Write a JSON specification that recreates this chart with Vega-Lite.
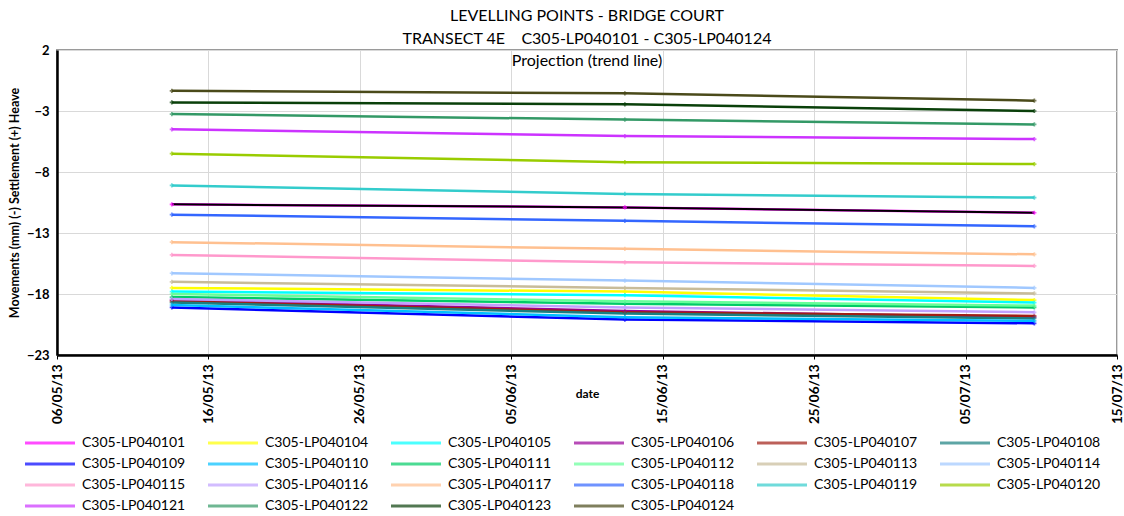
{
  "$schema": "https://vega.github.io/schema/vega-lite/v6.json",
  "width": 1060,
  "height": 305,
  "autosize": {"type": "none"},
  "padding": {"left": 57, "top": 50, "right": 7, "bottom": 161},
  "background": "white",
  "config": {
    "font": "Lato",
    "view": {"stroke": "#9a9a9a", "strokeWidth": 2},
    "axis": {"gridColor": "#d9d9d9", "gridWidth": 1, "labelFont": "Lato", "titleFont": "Lato"}
  },
  "title": {
    "text": ["LEVELLING POINTS - BRIDGE COURT", "TRANSECT 4E\u00a0\u00a0\u00a0\u00a0C305-LP040101 - C305-LP040124", "Projection (trend line)"],
    "anchor": "middle",
    "fontSize": 16,
    "fontWeight": "normal",
    "font": "Lato",
    "color": "#000000",
    "lineHeight": 22.5,
    "offset": -25
  },
  "data": {
    "values": [
      {"series": "C305-LP040101", "date": "2013-05-13T14:00", "value": -10.65},
      {"series": "C305-LP040101", "date": "2013-06-12T12:00", "value": -10.9},
      {"series": "C305-LP040101", "date": "2013-07-09T13:00", "value": -11.34},
      {"series": "C305-LP040104", "date": "2013-05-13T14:00", "value": -17.5},
      {"series": "C305-LP040104", "date": "2013-06-12T12:00", "value": -17.8},
      {"series": "C305-LP040104", "date": "2013-07-09T13:00", "value": -18.5},
      {"series": "C305-LP040105", "date": "2013-05-13T14:00", "value": -17.8},
      {"series": "C305-LP040105", "date": "2013-06-12T12:00", "value": -18.1},
      {"series": "C305-LP040105", "date": "2013-07-09T13:00", "value": -18.7},
      {"series": "C305-LP040106", "date": "2013-05-13T14:00", "value": -18.5},
      {"series": "C305-LP040106", "date": "2013-06-12T12:00", "value": -19.4},
      {"series": "C305-LP040106", "date": "2013-07-09T13:00", "value": -19.9},
      {"series": "C305-LP040107", "date": "2013-05-13T14:00", "value": -18.6},
      {"series": "C305-LP040107", "date": "2013-06-12T12:00", "value": -19.5},
      {"series": "C305-LP040107", "date": "2013-07-09T13:00", "value": -19.8},
      {"series": "C305-LP040108", "date": "2013-05-13T14:00", "value": -18.7},
      {"series": "C305-LP040108", "date": "2013-06-12T12:00", "value": -19.6},
      {"series": "C305-LP040108", "date": "2013-07-09T13:00", "value": -20.0},
      {"series": "C305-LP040109", "date": "2013-05-13T14:00", "value": -19.1},
      {"series": "C305-LP040109", "date": "2013-06-12T12:00", "value": -20.1},
      {"series": "C305-LP040109", "date": "2013-07-09T13:00", "value": -20.4},
      {"series": "C305-LP040110", "date": "2013-05-13T14:00", "value": -18.9},
      {"series": "C305-LP040110", "date": "2013-06-12T12:00", "value": -19.9},
      {"series": "C305-LP040110", "date": "2013-07-09T13:00", "value": -20.2},
      {"series": "C305-LP040111", "date": "2013-05-13T14:00", "value": -18.25},
      {"series": "C305-LP040111", "date": "2013-06-12T12:00", "value": -18.8},
      {"series": "C305-LP040111", "date": "2013-07-09T13:00", "value": -19.1},
      {"series": "C305-LP040112", "date": "2013-05-13T14:00", "value": -18.0},
      {"series": "C305-LP040112", "date": "2013-06-12T12:00", "value": -18.6},
      {"series": "C305-LP040112", "date": "2013-07-09T13:00", "value": -18.95},
      {"series": "C305-LP040113", "date": "2013-05-13T14:00", "value": -17.0},
      {"series": "C305-LP040113", "date": "2013-06-12T12:00", "value": -17.5},
      {"series": "C305-LP040113", "date": "2013-07-09T13:00", "value": -17.95},
      {"series": "C305-LP040114", "date": "2013-05-13T14:00", "value": -16.3},
      {"series": "C305-LP040114", "date": "2013-06-12T12:00", "value": -16.9},
      {"series": "C305-LP040114", "date": "2013-07-09T13:00", "value": -17.5},
      {"series": "C305-LP040115", "date": "2013-05-13T14:00", "value": -14.8},
      {"series": "C305-LP040115", "date": "2013-06-12T12:00", "value": -15.4},
      {"series": "C305-LP040115", "date": "2013-07-09T13:00", "value": -15.7},
      {"series": "C305-LP040116", "date": "2013-05-13T14:00", "value": -18.4},
      {"series": "C305-LP040116", "date": "2013-06-12T12:00", "value": -19.1},
      {"series": "C305-LP040116", "date": "2013-07-09T13:00", "value": -19.5},
      {"series": "C305-LP040117", "date": "2013-05-13T14:00", "value": -13.75},
      {"series": "C305-LP040117", "date": "2013-06-12T12:00", "value": -14.3},
      {"series": "C305-LP040117", "date": "2013-07-09T13:00", "value": -14.75},
      {"series": "C305-LP040118", "date": "2013-05-13T14:00", "value": -11.5},
      {"series": "C305-LP040118", "date": "2013-06-12T12:00", "value": -12.0},
      {"series": "C305-LP040118", "date": "2013-07-09T13:00", "value": -12.45},
      {"series": "C305-LP040119", "date": "2013-05-13T14:00", "value": -9.1},
      {"series": "C305-LP040119", "date": "2013-06-12T12:00", "value": -9.8},
      {"series": "C305-LP040119", "date": "2013-07-09T13:00", "value": -10.1},
      {"series": "C305-LP040120", "date": "2013-05-13T14:00", "value": -6.5},
      {"series": "C305-LP040120", "date": "2013-06-12T12:00", "value": -7.2},
      {"series": "C305-LP040120", "date": "2013-07-09T13:00", "value": -7.35},
      {"series": "C305-LP040121", "date": "2013-05-13T14:00", "value": -4.5},
      {"series": "C305-LP040121", "date": "2013-06-12T12:00", "value": -5.05},
      {"series": "C305-LP040121", "date": "2013-07-09T13:00", "value": -5.3},
      {"series": "C305-LP040122", "date": "2013-05-13T14:00", "value": -3.25},
      {"series": "C305-LP040122", "date": "2013-06-12T12:00", "value": -3.7},
      {"series": "C305-LP040122", "date": "2013-07-09T13:00", "value": -4.1},
      {"series": "C305-LP040123", "date": "2013-05-13T14:00", "value": -2.3},
      {"series": "C305-LP040123", "date": "2013-06-12T12:00", "value": -2.45},
      {"series": "C305-LP040123", "date": "2013-07-09T13:00", "value": -3.0},
      {"series": "C305-LP040124", "date": "2013-05-13T14:00", "value": -1.35},
      {"series": "C305-LP040124", "date": "2013-06-12T12:00", "value": -1.55},
      {"series": "C305-LP040124", "date": "2013-07-09T13:00", "value": -2.15}
    ]
  },
  "encoding": {
    "x": {
      "field": "date",
      "type": "temporal",
      "scale": {"domain": [{"year": 2013, "month": 5, "date": 6}, {"year": 2013, "month": 7, "date": 15}]},
      "axis": {
        "values": [
          {"year": 2013, "month": 5, "date": 6},
          {"year": 2013, "month": 5, "date": 16},
          {"year": 2013, "month": 5, "date": 26},
          {"year": 2013, "month": 6, "date": 5},
          {"year": 2013, "month": 6, "date": 15},
          {"year": 2013, "month": 6, "date": 25},
          {"year": 2013, "month": 7, "date": 5},
          {"year": 2013, "month": 7, "date": 15}
        ],
        "format": "%d/%m/%y",
        "labelAngle": 270,
        "labelFontSize": 13.5,
        "labelFontWeight": "bold",
        "labelColor": "#000000",
        "labelPadding": 5,
        "labelFlush": false,
        "labelOverlap": false,
        "domainColor": "#000000",
        "domainWidth": 2.5,
        "tickColor": "#000000",
        "tickSize": 4,
        "title": "date",
        "titleFontSize": 12,
        "titleFontWeight": "bold",
        "titleColor": "#000000",
        "titleY": 33
      }
    },
    "y": {
      "field": "value",
      "type": "quantitative",
      "scale": {"domain": [-23, 2], "nice": false, "zero": false},
      "axis": {
        "values": [-23, -18, -13, -8, -3, 2],
        "labelFontSize": 13,
        "labelFontWeight": "bold",
        "labelColor": "#000000",
        "labelPadding": 8,
        "domainColor": "#000000",
        "domainWidth": 2.5,
        "ticks": false,
        "title": "Movements (mm) (-) Settlement (+) Heave",
        "titleFontSize": 12.5,
        "titleFontWeight": "bold",
        "titleColor": "#000000",
        "titlePadding": 5
      }
    },
    "color": {
      "field": "series",
      "type": "nominal",
      "scale": {
        "domain": ["C305-LP040101", "C305-LP040104", "C305-LP040105", "C305-LP040106", "C305-LP040107", "C305-LP040108", "C305-LP040109", "C305-LP040110", "C305-LP040111", "C305-LP040112", "C305-LP040113", "C305-LP040114", "C305-LP040115", "C305-LP040116", "C305-LP040117", "C305-LP040118", "C305-LP040119", "C305-LP040120", "C305-LP040121", "C305-LP040122", "C305-LP040123", "C305-LP040124"],
        "range": ["#ff00ff", "#ffff00", "#00ffff", "#990099", "#a01e14", "#1a8080", "#0000ff", "#00bfff", "#00cc66", "#66ff99", "#c8bc9a", "#a0c8ff", "#ff99cc", "#c0a0ff", "#ffc090", "#3366ff", "#33cccc", "#99cc00", "#cc33ff", "#339966", "#0a400a", "#4a4a1a"]
      },
      "legend": {
        "orient": "none",
        "legendX": -39,
        "legendY": 386,
        "direction": "horizontal",
        "columns": 6,
        "title": null,
        "symbolType": "M0,0H10",
        "symbolSize": 100,
        "symbolStrokeWidth": 3,
        "labelFont": "Lato",
        "labelFontSize": 14,
        "labelColor": "#000000",
        "labelOffset": 50,
        "labelLimit": 200,
        "columnPadding": 15,
        "rowPadding": 7
      }
    }
  },
  "layer": [
    {"mark": {"type": "line", "strokeWidth": 2.5}},
    {
      "transform": [{"filter": "datum.series === 'C305-LP040101'"}],
      "mark": {"type": "line", "strokeWidth": 2, "color": "#000000"},
      "encoding": {"color": {"value": "#000000"}}
    },
    {"mark": {"type": "point", "shape": "cross", "filled": true, "size": 18}}
  ]
}
